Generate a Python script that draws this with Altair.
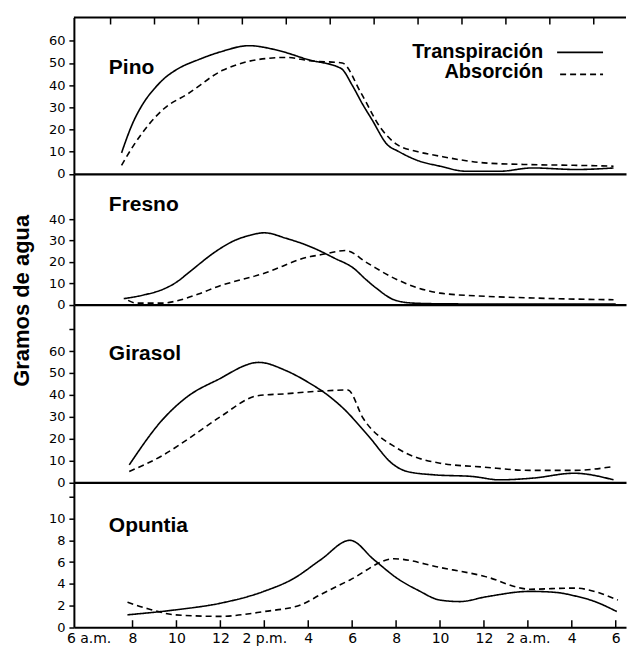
import altair as alt
import pandas as pd

# ---------------- data (hours since midnight of day 1; 30 = 6 a.m. next day) -------------
x_ticks = [6, 8, 10, 12, 14, 16, 18, 20, 22, 24, 26, 28, 30]
x_tick_labels = ["6 a.m.", "8", "10", "12", "2 p.m.", "4", "6", "8", "10", "12", "2 a.m.", "4", "6"]
top_ticks = [7, 9, 11, 13, 15, 17, 19, 21, 23, 25, 27, 29]
series_names = ["Transpiración", "Absorción"]

pino_t_h = [7.5, 8.0, 8.5, 9.0, 9.44, 10.0, 11.0, 12.0, 13.3, 14.5, 16.0, 17.5, 18.0, 18.5, 18.9, 19.6, 20.1, 21.0, 22.0, 23.2, 24.7, 26.2, 28.2, 29.9]
pino_t_v = [9.5, 22.7, 32, 38.5, 43, 47, 51.5, 55, 57.8, 56, 51.5, 47.5, 40, 31, 24.5, 13.2, 10.2, 6, 3.5, 1.2, 1.2, 2.7, 2, 2.7]
pino_a_h = [7.5, 8.05, 9.44, 10.5, 12.1, 13.0, 14.06, 15.0, 16.1, 17.55, 18.4, 19.3, 20.05, 21.0, 22.0, 24.0, 26.1, 28.1, 29.9]
pino_a_v = [3.9, 12.9, 29.5, 36, 46.7, 50, 52, 52.5, 51, 50, 36.5, 20.7, 13.2, 10, 8, 5, 4.2, 3.9, 3.5]

fresno_t_h = [7.6, 8.5, 9.44, 10.0, 10.5, 11.1, 11.6, 12.0, 12.6, 13.3, 14.0, 15.0, 16.1, 17.2, 18.07, 18.6, 19.1, 19.9, 20.8, 22.0, 24.0, 26.0, 28.0, 30.0]
fresno_t_v = [2.8, 4.5, 7.4, 10.5, 14.5, 19.5, 23.5, 26.3, 29.8, 32.3, 33.6, 31, 27.1, 21.7, 17, 12, 7.7, 2.3, 0.7, 0.4, 0.3, 0.3, 0.3, 0.3]
fresno_a_h = [7.8, 8.2, 9.4, 9.9, 11.0, 11.9, 14.0, 16.1, 16.56, 17.7, 18.7, 19.9, 22.0, 24.1, 26.25, 28.1, 29.9]
fresno_a_v = [2.0, 0.7, 0.7, 1.5, 5, 8.5, 14.7, 22.5, 23.3, 25.3, 19.4, 12.4, 5.4, 3.9, 3.1, 2.6, 2.3]

girasol_t_h = [7.85, 9.36, 10.5, 11.86, 13.75, 15.0, 15.95, 17.0, 17.6, 18.7, 19.9, 20.5, 21.7, 23.5, 24.7, 26.25, 28.1, 29.9]
girasol_t_v = [8, 28.6, 39.2, 46.8, 54.8, 51, 46, 39, 33.8, 21.7, 8, 5, 3.5, 2.7, 1.2, 2, 4.2, 1.2]
girasol_a_h = [7.85, 9.36, 10.8, 12.0, 13.7, 15.0, 16.25, 17.8, 18.5, 20.05, 22.0, 24.0, 26.1, 28.1, 29.9]
girasol_a_v = [5, 12.3, 21.7, 30, 39.6, 40.5, 41.5, 42.2, 29.3, 15.6, 8.8, 7, 5.5, 5.5, 7.3]

opuntia_t_h = [7.77, 9.97, 11.98, 13.98, 15.35, 16.56, 17.9, 19.0, 20.05, 21.0, 22.0, 22.9, 24.1, 26.1, 27.3, 28.1, 29.0, 30.05]
opuntia_t_v = [1.14, 1.6, 2.2, 3.3, 4.5, 6.2, 8.0, 6.2, 4.5, 3.4, 2.5, 2.36, 2.8, 3.3, 3.2, 2.9, 2.4, 1.44]
opuntia_a_h = [7.77, 8.7, 9.97, 11.98, 13.98, 15.65, 16.56, 17.9, 19.9, 22.0, 24.0, 26.1, 28.1, 30.1]
opuntia_a_v = [2.3, 1.7, 1.14, 1.0, 1.44, 2.05, 3.0, 4.35, 6.3, 5.5, 4.7, 3.5, 3.6, 2.5]

# ---------------- layout constants -------------
X_DOMAIN = [5.33, 30.468]
W = 553
FONT = "Liberation Sans"
NUM_FONT = "DejaVu Sans"


def make_df(th, tv, ah, av):
    rows = [{"h": h, "v": v, "serie": series_names[0]} for h, v in zip(th, tv)]
    rows += [{"h": h, "v": v, "serie": series_names[1]} for h, v in zip(ah, av)]
    return pd.DataFrame(rows)


def ternary(values, labels):
    expr = "''"
    for v, l in reversed(list(zip(values, labels))):
        expr = f"datum.value == {v} ? '{l}' : ({expr})"
    return expr


x_axis_bottom = alt.Axis(
    values=x_ticks, labelExpr=ternary(x_ticks, x_tick_labels), ticks=False, domain=True,
    domainColor="black", domainWidth=2,
    grid=False, labelFont=NUM_FONT, labelFontSize=14, labelColor="black", labelPadding=4,
    title=None, labelFlush=False, labelOverlap=False,
)
x_axis_line = alt.Axis(labels=False, ticks=False, domain=True, domainColor="black", domainWidth=2.2,
                       grid=False, title=None)


def panel(name, df, ymax, yvals, hidden, height, label_y, show_x=False, top=False, legend=False, ytitle=False):
    xaxis = x_axis_bottom if show_x else x_axis_line
    yaxis_kwargs = dict(
        values=yvals,
        labelExpr="indexof(%s, datum.value) >= 0 ? '' : datum.label" % str(hidden),
        tickSize=5, tickColor="black", tickWidth=1.5, domain=True, domainColor="black", domainWidth=2,
        grid=False,
        labelFont=NUM_FONT, labelFontSize=13, labelColor="black", labelPadding=4,
        labelOverlap=False, labelFlush=False, title=None,
    )
    if ytitle:
        yaxis_kwargs.update(
            title="Gramos de agua", titleFont=FONT, titleFontSize=22, titleFontWeight="bold",
            titleAngle=270, titleX=-52, titleY=126.3, titleAlign="center",
            titleBaseline="middle", titleColor="black",
        )
    xscale = alt.Scale(domain=X_DOMAIN, nice=False, zero=False)
    lines = alt.Chart(df).mark_line(color="black", strokeWidth=1.6, interpolate="monotone").encode(
        x=alt.X("h:Q", scale=xscale, axis=xaxis),
        y=alt.Y("v:Q", scale=alt.Scale(domain=[0, ymax], nice=False, zero=False), axis=alt.Axis(**yaxis_kwargs)),
        strokeDash=alt.StrokeDash("serie:N", scale=alt.Scale(domain=series_names, range=[[1, 0], [6, 4]]), legend=None),
        detail="serie:N",
    )
    title = alt.Chart(pd.DataFrame({"t": [name]})).mark_text(
        align="left", baseline="alphabetic", font=FONT, fontWeight="bold", fontSize=21, color="black"
    ).encode(x=alt.value(35), y=alt.value(label_y), text="t:N")
    layers = [lines, title]
    if top:
        layers.append(
            alt.Chart(pd.DataFrame({"t": ["frame"]})).mark_rule(color="black", strokeWidth=2.2).encode(
                x=alt.value(0), x2=alt.value(W), y=alt.value(0)
            )
        )
        layers.append(
            alt.Chart(pd.DataFrame({"h": top_ticks})).mark_rule(color="black", strokeWidth=1.5).encode(
                x=alt.X("h:Q", scale=xscale, axis=xaxis), y=alt.value(0), y2=alt.value(7)
            )
        )
    if show_x:
        layers.append(
            alt.Chart(pd.DataFrame({"h": x_ticks[1:]})).mark_rule(color="black", strokeWidth=1.5).encode(
                x=alt.X("h:Q", scale=xscale, axis=xaxis), y=alt.value(height), y2=alt.value(height - 7)
            )
        )
    if legend:
        for i, (nm, dash) in enumerate(zip(series_names, [[1, 0], [6, 4]])):
            layers.append(
                alt.Chart(pd.DataFrame({"t": [nm]})).mark_text(
                    align="right", baseline="alphabetic", font=FONT, fontWeight="bold", fontSize=20, color="black"
                ).encode(x=alt.value(470), y=alt.value(40.5 + 20.5 * i), text="t:N")
            )
            layers.append(
                alt.Chart(pd.DataFrame({"t": [nm]})).mark_rule(color="black", strokeWidth=1.8, strokeDash=dash).encode(
                    x=alt.value(484 if i == 0 else 487), x2=alt.value(530), y=alt.value(35 + 22 * i)
                )
            )
    return alt.layer(*layers).properties(width=W, height=height)


p1 = panel("Pino", make_df(pino_t_h, pino_t_v, pino_a_h, pino_a_v), 70.5,
           [0, 10, 20, 30, 40, 50, 60], [], 156.7, 56.3, top=True, legend=True)
p2 = panel("Fresno", make_df(fresno_t_h, fresno_t_v, fresno_a_h, fresno_a_v), 61.0,
           [0, 10, 20, 30, 40], [], 130.6, 36.6, ytitle=True)
p3 = panel("Girasol", make_df(girasol_t_h, girasol_t_v, girasol_a_h, girasol_a_v), 81.0,
           [0, 10, 20, 30, 40, 50, 60, 70], [70], 177.7, 55)
p4 = panel("Opuntia", make_df(opuntia_t_h, opuntia_t_v, opuntia_a_h, opuntia_a_v), 13.3,
           [0, 2, 4, 6, 8, 10, 12], [12], 144.7, 49, show_x=True)

chart = alt.vconcat(p1, p2, p3, p4, spacing=0, bounds="flush").properties(
    padding={"left": 2, "top": 7, "right": 0, "bottom": 0}, background="white"
).configure_view(stroke="transparent", strokeWidth=0).configure_concat(spacing=0)

chart.save("out.html", embed_options={"renderer": "svg", "actions": False})
